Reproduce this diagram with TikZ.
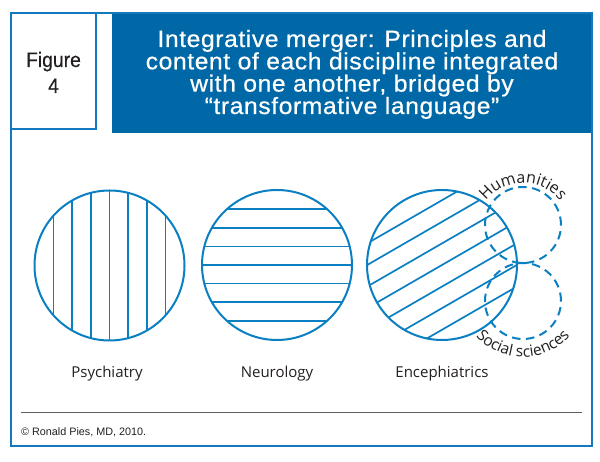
\documentclass[tikz,border=0pt]{standalone}
\usepackage{fontspec}
\setmainfont{Liberation Sans}
\newfontfamily\labfont{Open Sans}
\newfontfamily\ttlfont[FakeStretch=1.05,LetterSpace=2.5,FakeBold=0.6]{Liberation Sans}
\newfontfamily\figfont[FakeStretch=0.92,FakeBold=0.3]{Liberation Sans}
\usetikzlibrary{decorations.text}
\definecolor{titleblue}{RGB}{0,104,166}
\definecolor{frameblue}{RGB}{20,120,190}
\definecolor{circblue}{RGB}{10,128,195}
\definecolor{ink}{RGB}{35,31,32}
\definecolor{rulegray}{RGB}{95,95,95}
\begin{document}
\begin{tikzpicture}[x=1pt,y=1pt,
  frame/.style={draw=frameblue,line width=2pt},
  disc/.style={circle,draw=circblue,line width=2pt,minimum size=150pt,inner sep=0pt},
  dcirc/.style={circle,draw=circblue,line width=2pt,dash pattern=on 8.5pt off 5.5pt,minimum size=76pt,inner sep=0pt},
  hatch/.style={draw=circblue,line width=1.7pt},
  lab/.style={font=\labfont\fontsize{15}{17}\selectfont,text=ink,anchor=base,inner sep=0pt},
  ttl/.style={font=\ttlfont\fontsize{23.5}{23.5}\selectfont,text=white,anchor=base,inner sep=0pt},
  fig/.style={font=\figfont\fontsize{21}{21}\selectfont,text=ink,anchor=base,inner sep=0pt},
]
\useasboundingbox (0,0) rectangle (600,462);
\fill[white] (0,0) rectangle (600,462);
% header
\fill[titleblue] (112,449) rectangle (592,329);
\draw[frame] (11,16) rectangle (592,449);
\draw[frame] (11,449) rectangle (96,333);
\node[fig] (fig1) at (53.5,395) {Figure};
\node[fig] (fig2) at (53.5,369) {4};
\node[ttl] (t1) at (352,415) {Integrative merger: Principles and};
\node[ttl] (t2) at (352,392.7) {content of each discipline integrated};
\node[ttl] (t3) at (352,370.4) {with one another, bridged by};
\node[ttl] (t4) at (352,348) {“transformative language”};
% Psychiatry: vertical hatching
\begin{scope}
  \clip (109.5,196.5) circle (75);
  \foreach \k in {-3,...,3} \draw[hatch] (109.5+\k*18.7,110) -- (109.5+\k*18.7,280);
\end{scope}
\node[disc] (psy) at (109.5,196.5) {};
% Neurology: horizontal hatching
\begin{scope}
  \clip (277,197) circle (75);
  \foreach \k in {-3,...,3} \draw[hatch] (190,197+\k*18.6) -- (360,197+\k*18.6);
\end{scope}
\node[disc] (neu) at (277,197) {};
% Encephiatrics: oblique hatching
\begin{scope}[shift={(442,197)},rotate=30]
  \clip (0,0) circle (75);
  \foreach \k in {-3,...,3} \draw[hatch] (-85,\k*18.7) -- (85,\k*18.7);
\end{scope}
\node[disc] (enc) at (442,197) {};
% dashed circles
\node[dcirc] (hum) at (523,237) {};
\node[dcirc] (soc) at (523,161) {};
\path[decorate,decoration={text along path,text align=center,
  text={|\labfont\fontsize{16}{18}\selectfont\color{ink}|Humanities}}]
  (523,232) ++(150:47) arc[start angle=150,end angle=30,radius=47];
\path[decorate,decoration={text along path,text align=center,
  text={|\labfont\fontsize{15.5}{18}\selectfont\color{ink}|Social sciences}}]
  (523,168) ++(210:63) arc[start angle=210,end angle=330,radius=63];
% labels
\node[lab] (lpsy) at (107,84) {Psychiatry};
\node[lab] (lneu) at (277,84) {Neurology};
\node[lab] (lenc) at (442,84) {Encephiatrics};
% footer
\coordinate (r1) at (21,49);
\coordinate (r2) at (582,49);
\draw[rulegray,line width=1pt] (r1) -- (r2);
\node[font=\fontsize{10.8}{12}\selectfont,text=ink,anchor=base west,inner sep=0pt] (copy) at (21,26) {© Ronald Pies, MD, 2010.};
\end{tikzpicture}
\end{document}
